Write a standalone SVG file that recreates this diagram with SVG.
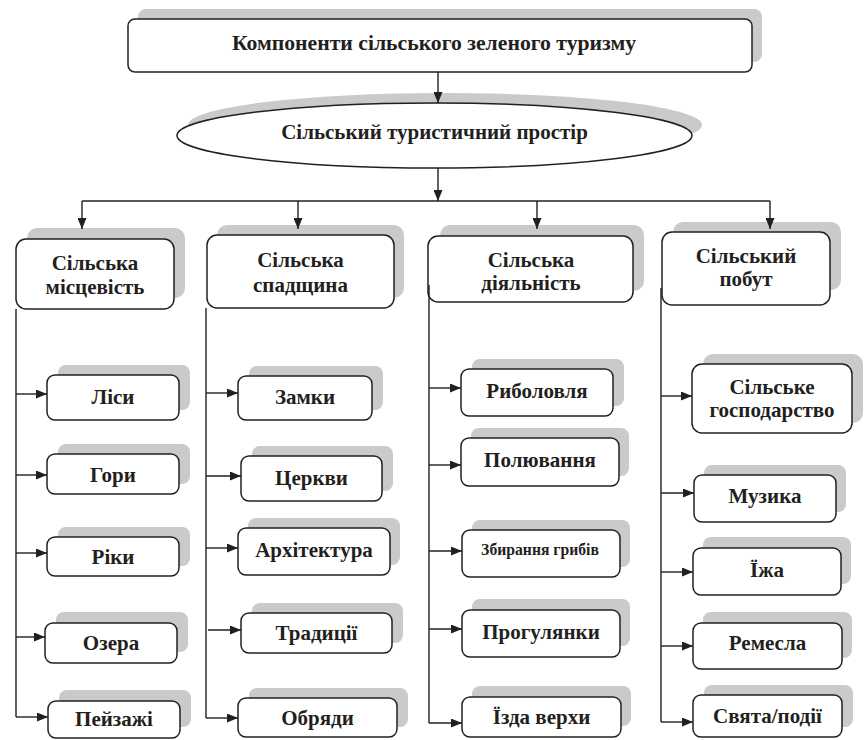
<svg xmlns="http://www.w3.org/2000/svg" width="864" height="740" viewBox="0 0 864 740">
<defs>
<style>
.sh{fill:#c9cacc;stroke:none}
.bx{fill:#fff;stroke:#231f20;stroke-width:1.5}
.t{font-family:"Liberation Serif","Times New Roman",serif;font-weight:bold;font-size:21px;fill:#231f20;text-anchor:middle}
.ts{font-size:15.7px}
.c{fill:none;stroke:#231f20;stroke-width:1.4}
</style>
<marker id="ah" markerUnits="userSpaceOnUse" markerWidth="11" markerHeight="9" refX="11" refY="4.5" orient="auto">
<path d="M0,0 L11,4.5 L0,9 z" fill="#231f20"/>
</marker>
</defs>
<rect width="864" height="740" fill="#fff"/>

<g id="top">
<rect class="sh" x="138" y="9" width="624" height="53" rx="8"/>
<rect class="bx" x="128" y="19" width="624" height="53" rx="7"/>
<text class="t" x="434" y="50" style="font-size:21.7px">Компоненти сільського зеленого туризму</text>
</g>

<g id="space">
<ellipse class="sh" cx="445" cy="125" rx="257" ry="32"/>
<ellipse class="bx" cx="434.5" cy="135.5" rx="257.5" ry="32.5"/>
<text class="t" x="434.5" y="139">Сільський туристичний простір</text>
</g>

<g id="h1">
<rect class="sh" x="27" y="228" width="158" height="70" rx="10"/>
<rect class="bx" x="16" y="239" width="158" height="70" rx="10"/>
<text class="t" x="95" y="270">Сільська</text>
<text class="t" x="95" y="294">місцевість</text>
</g>
<g id="h2">
<rect class="sh" x="217" y="225" width="187" height="73" rx="10"/>
<rect class="bx" x="207" y="235" width="187" height="73" rx="10"/>
<text class="t" x="300.5" y="267">Сільська</text>
<text class="t" x="300.5" y="292">спадщина</text>
</g>
<g id="h3">
<rect class="sh" x="440" y="225" width="204" height="66" rx="10"/>
<rect class="bx" x="428" y="236" width="205" height="66" rx="10"/>
<text class="t" x="531" y="267">Сільська</text>
<text class="t" x="531" y="290">діяльність</text>
</g>
<g id="h4">
<rect class="sh" x="673" y="222" width="168" height="68" rx="10"/>
<rect class="bx" x="662" y="232" width="168" height="73" rx="10"/>
<text class="t" x="746" y="263">Сільський</text>
<text class="t" x="746" y="286">побут</text>
</g>

<g id="n-lisy"><rect class="sh" x="58" y="365" width="132" height="45" rx="8"/><rect class="bx" x="47" y="375" width="132" height="45" rx="8"/><text class="t" x="113" y="404">Ліси</text></g>
<g id="n-hory"><rect class="sh" x="58" y="444" width="132" height="40" rx="8"/><rect class="bx" x="47" y="454" width="132" height="40" rx="8"/><text class="t" x="113" y="482">Гори</text></g>
<g id="n-riky"><rect class="sh" x="58" y="527" width="132" height="39" rx="8"/><rect class="bx" x="47" y="537" width="132" height="39" rx="8"/><text class="t" x="113" y="564">Ріки</text></g>
<g id="n-ozera"><rect class="sh" x="56" y="612" width="132" height="40" rx="8"/><rect class="bx" x="45" y="623" width="132" height="40" rx="8"/><text class="t" x="111" y="650">Озера</text></g>
<g id="n-peizazhi"><rect class="sh" x="59" y="690" width="132" height="37" rx="8"/><rect class="bx" x="48" y="701" width="132" height="37" rx="8"/><text class="t" x="114" y="726">Пейзажі</text></g>

<g id="n-zamky"><rect class="sh" x="249" y="366" width="134" height="44" rx="8"/><rect class="bx" x="238" y="376" width="134" height="44" rx="8"/><text class="t" x="305" y="404">Замки</text></g>
<g id="n-tserkvy"><rect class="sh" x="252" y="446" width="141" height="45" rx="8"/><rect class="bx" x="241" y="456" width="141" height="45" rx="8"/><text class="t" x="311.5" y="485">Церкви</text></g>
<g id="n-arkh"><rect class="sh" x="248" y="518" width="152" height="47" rx="8"/><rect class="bx" x="238" y="528" width="152" height="47" rx="8"/><text class="t" x="314" y="557">Архітектура</text></g>
<g id="n-trad"><rect class="sh" x="252" y="603" width="151" height="40" rx="8"/><rect class="bx" x="241" y="613" width="151" height="40" rx="8"/><text class="t" x="316.5" y="640">Традиції</text></g>
<g id="n-obriady"><rect class="sh" x="249" y="688" width="159" height="39" rx="8"/><rect class="bx" x="238" y="698" width="159" height="39" rx="8"/><text class="t" x="317.5" y="725">Обряди</text></g>

<g id="n-rybolovlia"><rect class="sh" x="472" y="359" width="152" height="47" rx="8"/><rect class="bx" x="461" y="369" width="152" height="47" rx="8"/><text class="t" x="537" y="398">Риболовля</text></g>
<g id="n-poliuvannia"><rect class="sh" x="471" y="428" width="158" height="48" rx="8"/><rect class="bx" x="461" y="438" width="158" height="48" rx="8"/><text class="t" x="540" y="467">Полювання</text></g>
<g id="n-hryby"><rect class="sh" x="472" y="520" width="158" height="47" rx="8"/><rect class="bx" x="462" y="530" width="158" height="47" rx="8"/><text class="t ts" x="540" y="555">Збирання грибів</text></g>
<g id="n-prohulianky"><rect class="sh" x="472" y="599" width="158" height="47" rx="8"/><rect class="bx" x="462" y="610" width="158" height="47" rx="8"/><text class="t" x="541" y="639">Прогулянки</text></g>
<g id="n-izda"><rect class="sh" x="472" y="686" width="159" height="40" rx="8"/><rect class="bx" x="462" y="697" width="159" height="40" rx="8"/><text class="t" x="541.5" y="724">Їзда верхи</text></g>

<g id="n-hosp"><rect class="sh" x="703" y="354" width="160" height="69" rx="10"/><rect class="bx" x="692" y="364" width="160" height="69" rx="10"/><text class="t" x="772" y="394">Сільське</text><text class="t" x="772" y="417">господарство</text></g>
<g id="n-muzyka"><rect class="sh" x="704" y="465" width="142" height="47" rx="8"/><rect class="bx" x="694" y="475" width="142" height="47" rx="8"/><text class="t" x="765" y="503">Музика</text></g>
<g id="n-yizha"><rect class="sh" x="703" y="537" width="148" height="47" rx="8"/><rect class="bx" x="693" y="548" width="148" height="47" rx="8"/><text class="t" x="767" y="577">Їжа</text></g>
<g id="n-remesla"><rect class="sh" x="703" y="612" width="149" height="46" rx="8"/><rect class="bx" x="693" y="623" width="149" height="46" rx="8"/><text class="t" x="767.5" y="650">Ремесла</text></g>
<g id="n-sviata"><rect class="sh" x="704" y="685" width="149" height="42" rx="8"/><rect class="bx" x="693" y="695" width="149" height="42" rx="8"/><text class="t" x="767.5" y="723">Свята/події</text></g>

<g id="connectors">
<path class="c" d="M438,72 V103" marker-end="url(#ah)"/>
<path class="c" d="M438,168 V201" marker-end="url(#ah)"/>
<path class="c" d="M82,201 H770"/>
<path class="c" d="M82,201 V229" marker-end="url(#ah)"/>
<path class="c" d="M298,201 V229" marker-end="url(#ah)"/>
<path class="c" d="M537,201 V229" marker-end="url(#ah)"/>
<path class="c" d="M770,201 V229" marker-end="url(#ah)"/>
<path class="c" d="M16,309 V717"/>
<path class="c" d="M206,308 V718"/>
<path class="c" d="M429,285 V723"/>
<path class="c" d="M661,288 V722"/>
<path class="c" d="M16,394 H47" marker-end="url(#ah)"/>
<path class="c" d="M16,475 H47" marker-end="url(#ah)"/>
<path class="c" d="M16,553 H47" marker-end="url(#ah)"/>
<path class="c" d="M16,637 H45" marker-end="url(#ah)"/>
<path class="c" d="M16,717 H48" marker-end="url(#ah)"/>
<path class="c" d="M206,393 H238" marker-end="url(#ah)"/>
<path class="c" d="M206,476 H241" marker-end="url(#ah)"/>
<path class="c" d="M206,548 H238" marker-end="url(#ah)"/>
<path class="c" d="M208,630 H241" marker-end="url(#ah)"/>
<path class="c" d="M206,718 H238" marker-end="url(#ah)"/>
<path class="c" d="M429,388 H461" marker-end="url(#ah)"/>
<path class="c" d="M429,465 H461" marker-end="url(#ah)"/>
<path class="c" d="M429,551 H462" marker-end="url(#ah)"/>
<path class="c" d="M429,629 H462" marker-end="url(#ah)"/>
<path class="c" d="M429,723 H462" marker-end="url(#ah)"/>
<path class="c" d="M661,396 H692" marker-end="url(#ah)"/>
<path class="c" d="M661,493 H694" marker-end="url(#ah)"/>
<path class="c" d="M661,572 H693" marker-end="url(#ah)"/>
<path class="c" d="M661,646 H693" marker-end="url(#ah)"/>
<path class="c" d="M661,722 H693" marker-end="url(#ah)"/>
</g>
</svg>
